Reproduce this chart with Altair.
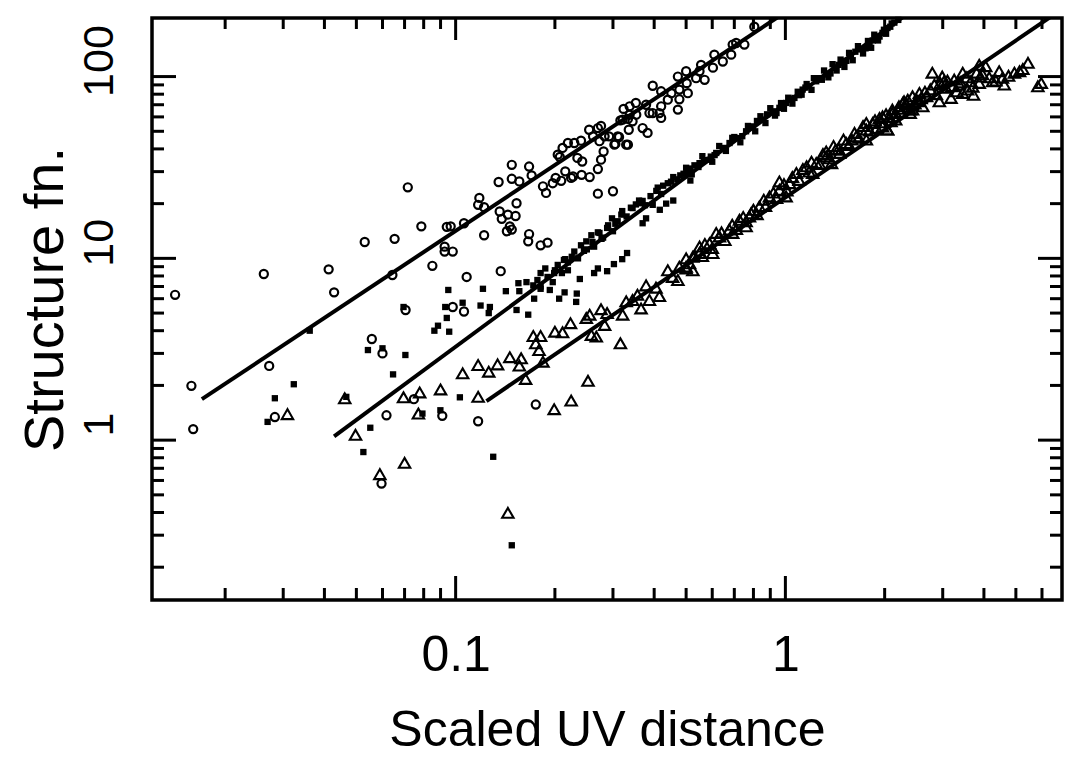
import altair as alt
import pandas as pd

# ---------------- data ----------------
circ_x = [0.0141, 0.0158, 0.0160, 0.0262, 0.0272, 0.0283, 0.0412, 0.0428, 0.053, 0.0557,
          0.060, 0.0617, 0.0596, 0.0653, 0.0643, 0.0716, 0.0705, 0.0747, 0.0787, 0.085,
          0.0911, 0.0926, 0.094, 0.0966, 0.106, 0.117, 0.122, 0.098, 0.122, 0.108,
          0.137, 0.136, 0.144, 0.152, 0.146, 0.143, 0.153, 0.167, 0.166, 0.181,
          0.190, 0.098, 0.106, 0.117, 0.175, 0.0926, 0.118, 0.135, 0.148, 0.148,
          0.156, 0.167, 0.170, 0.138, 0.148, 0.184, 0.188, 0.197, 0.201, 0.209,
          0.215, 0.224, 0.227, 0.241, 0.255, 0.207, 0.211, 0.219, 0.229, 0.240,
          0.234, 0.242, 0.254, 0.270, 0.261, 0.273, 0.281, 0.276, 0.270, 0.270,
          0.300, 0.292, 0.305, 0.313, 0.329, 0.323, 0.316, 0.333, 0.204, 0.805,
          0.751, 0.692, 0.709, 0.685, 0.646, 0.609, 0.603, 0.555, 0.549, 0.500,
          0.472, 0.569, 0.536, 0.502, 0.506, 0.477, 0.396, 0.420, 0.451, 0.477,
          0.472, 0.440, 0.420, 0.415, 0.420, 0.396, 0.387, 0.378, 0.352, 0.337,
          0.337, 0.353, 0.321, 0.344, 0.335, 0.369, 0.382, 0.310, 0.303, 0.333,
          0.283, 0.276]
circ_y = [6.3, 1.99, 1.15, 8.2, 2.56, 1.34, 8.7, 6.5, 12.3, 3.6,
          3.0, 1.37, 0.577, 12.8, 8.1, 24.6, 5.2, 1.68, 15.0, 9.1,
          1.36, 10.9, 14.9, 15.0, 15.6, 19.7, 19.1, 10.9, 13.4, 7.9,
          8.5, 18.1, 17.4, 17.1, 15.0, 14.1, 20.1, 13.6, 12.4, 11.8,
          12.2, 5.4, 5.1, 1.27, 1.57, 11.6, 21.5, 26.3, 32.7, 27.4,
          26.5, 32.0, 28.6, 16.5, 14.4, 24.9, 22.9, 25.9, 27.7, 26.7,
          30.1, 27.7, 28.2, 28.8, 28.0, 36.1, 40.5, 43.1, 43.1, 44.4,
          35.7, 34.1, 51.0, 52.1, 46.9, 44.1, 38.7, 34.9, 31.0, 22.7,
          23.4, 46.9, 42.6, 46.5, 42.2, 66.4, 57.4, 58.5, 37.2, 188,
          150, 150, 153, 132, 121, 132, 112, 116, 107, 107,
          100, 96, 98, 92, 81, 84.8, 89, 83, 81, 75,
          65.8, 74.6, 68.6, 63, 59.2, 63, 63, 70, 71.6, 68.6,
          61.7, 61.7, 58, 56.7, 51, 52.1, 49, 46.9, 42.2, 42.2,
          46.9, 53.5]

sq_x = [0.0361, 0.0283, 0.0269, 0.0323, 0.0466, 0.0542, 0.060, 0.0646, 0.0704, 0.0551,
        0.0525, 0.0695, 0.0793, 0.0899, 0.0862, 0.0884, 0.093, 0.094, 0.095, 0.0956,
        0.121, 0.119, 0.127, 0.126, 0.105, 0.103, 0.130, 0.148, 0.142, 0.155,
        0.153, 0.166, 0.156, 0.164, 0.172, 0.177, 0.181, 0.173, 0.193, 0.187,
        0.197, 0.214, 0.233, 0.238, 0.204, 0.213, 0.219, 0.229, 0.270, 0.302,
        0.331, 0.249, 0.263, 0.273, 0.288, 0.300, 0.318, 0.344, 0.378, 0.365,
        0.396, 0.435, 0.181, 0.199, 0.219, 0.240, 0.258, 0.277, 0.298, 0.320,
        0.352, 0.369, 0.406, 0.426, 0.457, 0.491, 0.515, 0.566, 0.594, 0.288,
        0.416, 0.457, 0.515, 0.181, 0.206, 0.232, 0.263, 0.320, 0.369, 0.549,
        0.589, 0.617, 0.646, 0.677, 0.717, 0.760, 0.796, 0.854, 0.915, 0.959,
        1.005, 1.065, 1.128, 1.18, 1.24, 1.33, 1.41, 1.49, 1.58, 1.70,
        1.80, 1.88, 1.97, 2.04, 2.14, 0.52, 0.61, 0.70, 0.74, 0.82,
        0.88, 0.94, 1.03, 1.10, 1.15, 1.27, 1.37, 1.45, 1.53, 1.63,
        1.75, 1.84, 1.93, 2.08, 0.20, 0.225, 0.25, 0.27, 0.31, 0.34,
        0.39, 0.44, 0.47, 0.50,
        0.56, 0.60, 0.63, 0.66, 0.69, 0.73, 0.77, 0.81, 0.84, 0.87,
        0.90, 0.93, 0.97, 0.99, 1.02, 1.05, 1.09, 1.12, 1.16, 1.20,
        1.22, 1.29, 1.31, 1.35, 1.39, 1.43, 1.47, 1.51, 1.56, 1.60,
        1.66, 1.72, 1.78, 1.82, 1.86, 1.91, 1.99, 2.02, 2.10, 2.20,
        0.19, 0.21, 0.215, 0.235, 0.245, 0.26, 0.28, 0.29, 0.305, 0.33,
        0.36, 0.375, 0.41, 0.42, 0.45, 0.48, 0.505, 0.53, 0.545]
sq_y = [4.0, 1.70, 1.26, 2.03, 1.73, 3.13, 3.2, 2.30, 2.94, 1.17,
        0.86, 5.4, 1.40, 1.46, 4.0, 4.26, 5.4, 4.7, 6.7, 3.95,
        6.8, 5.5, 5.4, 5.0, 5.7, 1.72, 0.81, 0.264, 6.6, 7.3,
        5.2, 4.9, 6.6, 7.4, 7.1, 7.6, 6.8, 6.0, 6.7, 8.8,
        7.4, 6.5, 6.4, 7.7, 9.2, 9.8, 8.6, 10.9, 8.8, 9.3,
        10.7, 12.4, 11.6, 13.8, 14.7, 14.1, 17.4, 18.9, 16.6, 20.1,
        19.7, 20.0, 7.0, 8.3, 9.5, 11.8, 13.4, 12.8, 16.6, 18.2,
        19.8, 20.7, 23.5, 25.1, 28.0, 29.2, 31.2, 34.7, 36.3, 8.5,
        18.5, 20.8, 26.8, 8.3, 6.0, 5.76, 8.3, 9.9, 15.6, 33.4,
        34.9, 38.0, 40.5, 43.1, 45.9, 50.0, 53.2, 58.0, 64.4, 67.3,
        71.6, 76.3, 84.8, 88.4, 94.2, 102.6, 111.7, 119, 129, 141,
        150, 163, 174, 185, 198, 29, 37, 46.5, 47, 57,
        62, 63, 75, 79, 87, 98, 104, 116, 122, 137,
        143, 158, 166, 188, 8.6, 10.2, 11.2, 13.9, 16.0, 19.0,
        22.0, 25.9, 27.2, 31.5,
        36.5, 34.0, 41.5, 39.0, 46.0, 43.5, 53.5, 50.0, 60.5, 55.5,
        67.0, 61.0, 71.5, 66.5, 76.5, 71.0, 82.5, 79.5, 91.0, 84.5,
        98.0, 96.0, 108, 99.0, 117, 108, 124, 113, 135, 123,
        147, 134, 157, 144, 170, 158, 181, 172, 196, 205,
        7.9, 8.3, 9.9, 10.0, 11.0, 12.3, 13.0, 15.2, 15.5, 17.0,
        20.8, 19.6, 24.5, 22.6, 26.4, 28.6, 29.8, 32.5, 31.8]

tri_x = [0.0309, 0.0461, 0.0497, 0.0589, 0.070, 0.0695, 0.0778, 0.0771, 0.0900, 0.144,
         0.105, 0.117, 0.117, 0.126, 0.134, 0.146, 0.158, 0.156, 0.163, 0.172,
         0.181, 0.175, 0.179, 0.184, 0.200, 0.211, 0.223, 0.249, 0.255, 0.276,
         0.283, 0.258, 0.267, 0.252, 0.224, 0.199, 0.316, 0.288, 0.321, 0.329,
         0.344, 0.356, 0.365, 0.378, 0.387, 0.405, 0.415, 0.440, 0.455, 0.472,
         0.5, 0.524, 0.549, 0.477, 0.512, 0.589, 0.631, 0.676, 0.726, 0.778,
         0.834, 0.895, 0.959, 1.03, 1.08, 1.16, 1.24, 1.33, 1.42, 1.53,
         1.64, 1.76, 1.84, 1.97, 2.11, 2.27, 2.43, 0.959, 0.787, 0.692,
         0.617, 0.549, 0.500, 0.5, 1.33, 1.46, 1.76, 1.59, 1.89, 1.93,
         2.16, 2.39, 2.50, 0.524, 0.602, 0.760, 1.005, 1.21, 1.38, 1.76,
         2.04, 1.97, 2.11, 2.21, 2.29, 2.16, 2.43, 2.55, 2.61, 2.79,
         2.99, 2.83, 3.07, 3.18, 3.25, 3.45, 3.57, 3.65, 3.87, 4.05,
         3.96, 3.87, 4.25, 4.45, 4.61, 4.55, 4.95, 5.13, 5.44, 5.97,
         5.83, 3.31, 2.68, 2.93, 3.45, 3.72, 2.39, 2.04, 2.09, 2.33,
         2.53, 3.37, 3.03, 3.80,
         0.53, 0.56, 0.57, 0.60, 0.64, 0.655, 0.69, 0.71, 0.745, 0.76,
         0.80, 0.82, 0.86, 0.87, 0.92, 0.94, 0.99, 1.01, 1.05, 1.10,
         1.13, 1.18, 1.20, 1.27, 1.30, 1.36, 1.40, 1.45, 1.50, 1.56,
         1.62, 1.67, 1.72, 1.80, 1.87, 1.95, 2.02, 2.07, 2.20, 2.25,
         2.35, 2.47, 2.58, 2.65, 2.75, 2.87, 2.95, 3.10, 3.20, 3.40,
         3.55, 3.70, 3.90, 4.15, 4.35, 4.75, 5.25]
tri_y = [1.39, 1.70, 1.07, 0.65, 0.75, 1.72, 1.83, 1.40, 1.90, 0.398,
         2.33, 1.73, 2.59, 2.38, 2.61, 2.86, 2.82, 2.57, 2.17, 3.74,
         3.74, 3.41, 3.13, 2.70, 3.95, 3.92, 4.4, 4.7, 4.9, 5.25,
         4.3, 3.79, 3.71, 2.12, 1.65, 1.48, 3.41, 5.0, 4.9, 5.8,
         5.9, 6.3, 5.3, 7.1, 5.9, 6.9, 6.2, 8.6, 7.9, 7.6,
         8.8, 10.2, 10.7, 9.0, 9.4, 12.1, 13.2, 14.4, 16.3, 17.0,
         19.3, 21.9, 23.8, 25.9, 29.5, 32.1, 33.4, 36.4, 39.6, 43.1,
         46.9, 51.1, 55.6, 60.4, 65.8, 71.6, 77.9, 26.5, 17.7, 13.8,
         13.8, 11.6, 9.0, 10.0, 38.7, 38.0, 55.6, 45, 52.1, 59.2,
         63.1, 65.8, 74.6, 8.6, 10.7, 15.0, 21.9, 29.5, 33.4, 45,
         51.1, 53.2, 63.1, 68.6, 73.1, 58, 65.8, 81.3, 68.6, 105,
         100, 90.3, 86.7, 76.3, 96.2, 105, 84.8, 94.2, 116, 114,
         103, 92.2, 94.2, 107, 90.3, 98.4, 105, 107, 119, 92.2,
         88.4, 83, 77.9, 73.1, 81.3, 79.4, 63.1, 51.1, 56.7, 70.1,
         73.1, 90.3, 94.2, 105,
         10.3, 10.3, 12.0, 11.4, 13.9, 12.6, 15.3, 14.5, 16.9, 16.0,
         18.5, 17.5, 21.0, 19.4, 23.0, 21.5, 25.6, 23.6, 28.0, 27.0,
         31.0, 30.0, 34.0, 33.0, 37.5, 35.5, 41.5, 40.0, 45.0, 42.0,
         49.0, 46.0, 53.5, 50.5, 57.5, 56.0, 62.0, 60.0, 66.5, 64.0,
         74.5, 71.0, 76.0, 82.5, 85.0, 80.0, 92.0, 95.0, 88.5, 93.0,
         99.0, 88.0, 100, 99.0, 95.0, 101, 110]

# fitted power-law lines: start and end points
fit_series = ["circles", "circles", "squares", "squares", "triangles", "triangles"]
fit_x = [0.0170, 0.966, 0.0428, 2.37, 0.124, 6.9]
fit_y = [1.68, 217, 1.05, 225, 1.64, 235]

# axis tick positions
x_major = [0.1, 1]
x_minor = [0.02, 0.03, 0.04, 0.05, 0.06, 0.07, 0.08, 0.09,
           0.2, 0.3, 0.4, 0.5, 0.6, 0.7, 0.8, 0.9, 2, 3, 4, 5, 6]
y_major = [1, 10, 100]
y_minor = [0.2, 0.3, 0.4, 0.5, 0.6, 0.7, 0.8, 0.9, 2, 3, 4, 5, 6, 7, 8, 9,
           20, 30, 40, 50, 60, 70, 80, 90]

# ---------------- chart ----------------
W, H = 910, 582
xs = alt.Scale(type="log", domain=[0.012, 6.9], nice=False)
ys = alt.Scale(type="log", domain=[0.132, 210], nice=False)

x_axis = alt.Axis(values=x_major, format="~g", grid=False, ticks=False, domain=False,
                  labelFont="Liberation Sans", labelFontSize=50, labelColor="black",
                  labelBaseline="alphabetic", labelPadding=70,
                  title="Scaled UV distance", titleFont="Liberation Sans", titleFontSize=50,
                  titleFontWeight="normal", titleColor="black",
                  titleX=455, titleY=145, titleAlign="center", titleBaseline="alphabetic")
y_axis = alt.Axis(values=y_major, format="~g", grid=False, ticks=False, domain=False,
                  labelFont="Liberation Sans", labelFontSize=43, labelColor="black",
                  labelAngle=270, labelAlign="center", labelBaseline="alphabetic",
                  labelPadding=40, labelOffset=-16,
                  title="Structure fn.", titleFont="Liberation Sans", titleFontSize=56,
                  titleFontWeight="normal", titleColor="black", titleAngle=270,
                  titleX=-90, titleY=281, titleAlign="center", titleBaseline="alphabetic")

X = lambda f: alt.X(f, scale=xs, axis=x_axis)
Y = lambda f: alt.Y(f, scale=ys, axis=y_axis)

circ_df = pd.DataFrame({"x": circ_x, "y": circ_y})
sq_df = pd.DataFrame({"x": sq_x, "y": sq_y})
tri_df = pd.DataFrame({"x": tri_x, "y": tri_y})
fit_df = pd.DataFrame({"x": fit_x, "y": fit_y, "s": fit_series})

circles = alt.Chart(circ_df).mark_point(shape="circle", filled=False, color="black",
                                        size=66, strokeWidth=2.2, opacity=1).encode(
    x=X("x:Q"), y=Y("y:Q"))
squares = alt.Chart(sq_df).mark_point(shape="square", filled=True, color="black",
                                      size=40, opacity=1).encode(
    x=X("x:Q"), y=Y("y:Q"))
triangles = alt.Chart(tri_df).mark_point(shape="triangle-up", filled=False, color="black",
                                         size=130, strokeWidth=2.1, opacity=1).encode(
    x=X("x:Q"), y=Y("y:Q"))
fits = alt.Chart(fit_df).mark_line(color="black", strokeWidth=4, clip=True).encode(
    x=X("x:Q"), y=Y("y:Q"), detail="s:N")


def xticks(vals, length, bottom=True):
    df = pd.DataFrame({"x": vals})
    y0, y1 = (H, H - length) if bottom else (0, length)
    return alt.Chart(df).mark_rule(color="black", strokeWidth=3).encode(
        x=X("x:Q"), y=alt.value(y0), y2=alt.value(y1))


def yticks(vals, length, left=True):
    df = pd.DataFrame({"y": vals})
    x0, x1 = (0, length) if left else (W, W - length)
    return alt.Chart(df).mark_rule(color="black", strokeWidth=3).encode(
        y=Y("y:Q"), x=alt.value(x0), x2=alt.value(x1))


tick_layers = [
    xticks(x_major, 24, True), xticks(x_minor, 12, True),
    xticks(x_major, 22, False), xticks(x_minor, 11, False),
    yticks(y_major, 24, True), yticks(y_minor, 12, True),
    yticks(y_major, 24, False), yticks(y_minor, 12, False),
]

chart = alt.layer(circles, squares, triangles, fits, *tick_layers).properties(
    width=W, height=H,
    background="white",
    autosize=alt.AutoSizeParams(type="none"),
    padding={"left": 152, "top": 18, "right": 10, "bottom": 160},
).configure_view(stroke="black", strokeWidth=3.5)

chart.save("out.html", embed_options={"renderer": "svg", "actions": False})
